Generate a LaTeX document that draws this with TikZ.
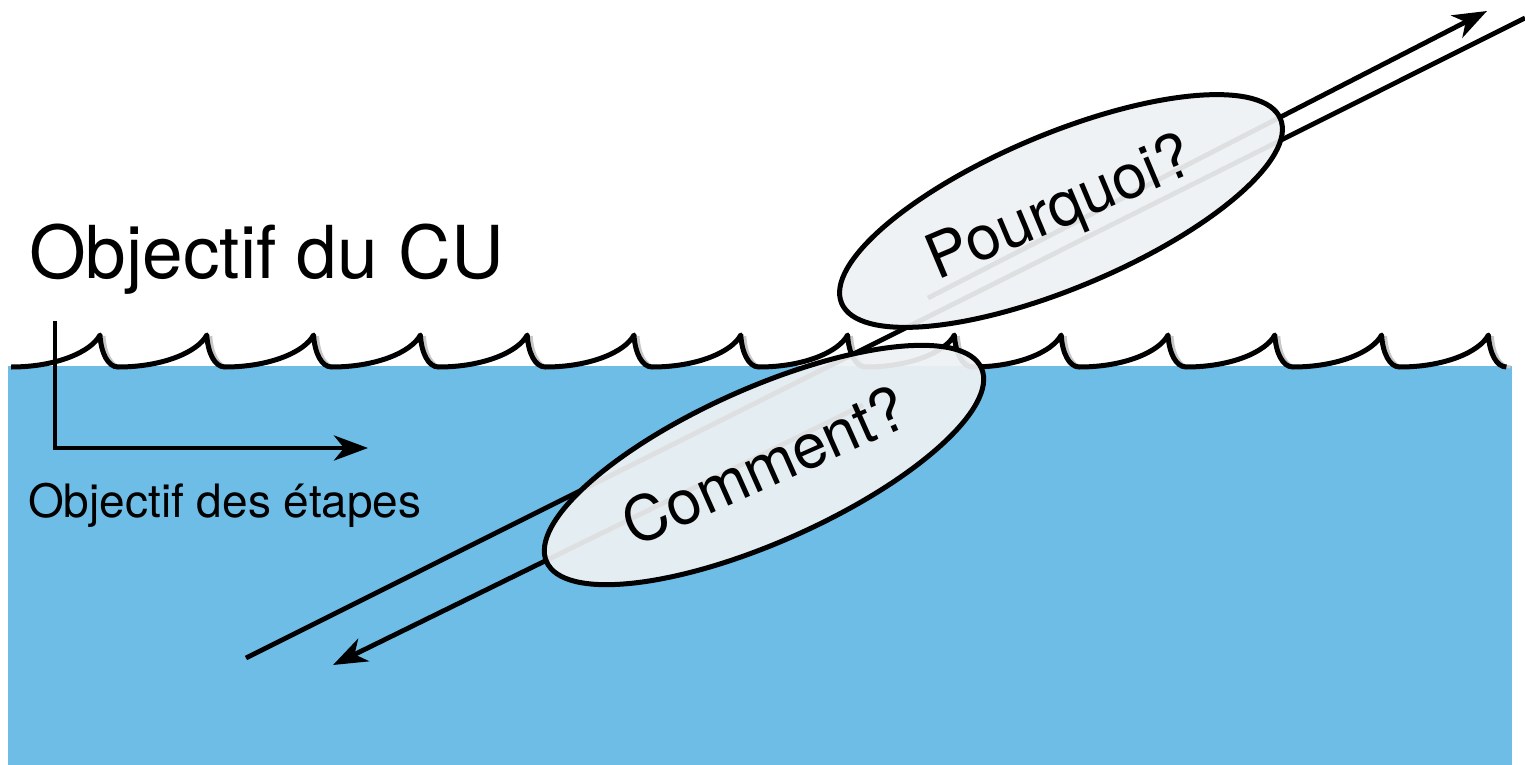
\documentclass[tikz,border=0pt]{standalone}
\usepackage{fontspec}
\setmainfont{TeX Gyre Heros}
\usepackage{tikz}
\usetikzlibrary{arrows.meta,shapes.geometric}
\definecolor{eau}{RGB}{110,189,230}
\definecolor{bulle}{RGB}{238,241,243}
\begin{document}
\begin{tikzpicture}[x=1pt,y=-1pt,
        trait/.style={line width=4.8pt},
        fleche/.style={trait,-{Stealth[length=34pt,width=25pt,inset=10pt]}},
        vague/.style={line width=5pt,line join=round},
        ombre/.style={line width=3pt,black!22},
        bulle/.style={ellipse,draw,line width=5pt,fill=bulle,fill opacity=0.93,
            text opacity=1,minimum width=476pt,minimum height=154pt,inner sep=0pt,
            font=\fontsize{62}{68}\selectfont}
    ]
    \useasboundingbox (0,0) rectangle (1525,765);
    % l'eau
    \fill[eau] (8,366) rectangle (1512,765);
    % les vagues
    \foreach \k in {0,...,13}
        \draw[ombre] ({100+106.8*\k+4},336) .. controls +(1,18) and +(-10,0) .. ++(18,31);
    \draw[vague] (11.2,367)
        \foreach \k in {0,...,13}{
            .. controls +(45,0) and +(-9,17) .. ++(88.8,-32)
            .. controls +(1,18) and +(-10,0) .. ++(18,32)
        };
    % les axes
    \coordinate (axe-o) at (55,448);
    \coordinate (axe-y) at (55,321);
    \coordinate (axe-x) at (368,448);
    \draw[fleche] (axe-y) -- (axe-o) -- (axe-x);
    \node[anchor=base west,inner sep=0pt,font=\fontsize{73}{80}\selectfont] (cu) at (29,278) {Objectif du CU};
    \node[anchor=base west,inner sep=0pt,font=\fontsize{46}{52}\selectfont] (etapes) at (28,517) {Objectif des étapes};
    % les fils
    \coordinate (fil-bas) at (246,658);
    \coordinate (fil-haut) at (1525,18);
    \coordinate (pq-dep) at (928,298);
    \coordinate (pq-bout) at (1487,11);
    \coordinate (cm-dep) at (863,405);
    \coordinate (cm-bout) at (333,665);
    \draw[trait] (fil-bas) -- (fil-haut);
    \draw[fleche] (pq-dep) -- (pq-bout);
    \draw[fleche] (cm-dep) -- (cm-bout);
    % les bulles
    \node[bulle,rotate=22.8] (pq) at (1061,211) {Pourquoi?};
    \node[bulle,rotate=24] (cm) at (764,465) {Comment?};
\end{tikzpicture}
\end{document}
